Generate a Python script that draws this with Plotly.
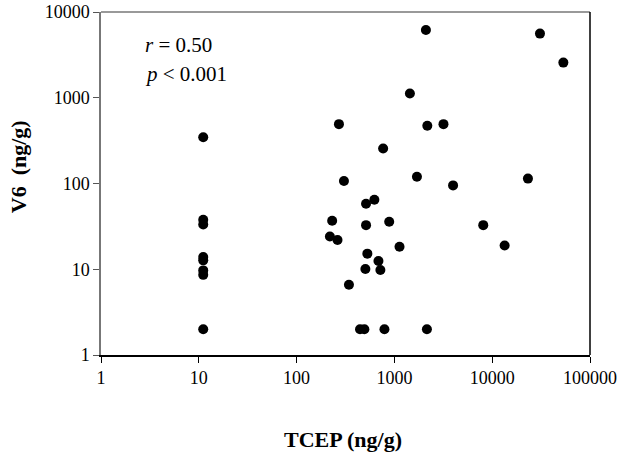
import plotly.graph_objects as go

tcep = [11.1, 11.1, 11.1, 11.1, 11.1, 11.1, 11.1, 11.1,
        2100, 30800, 53400, 1440, 271, 2170, 3175, 767, 305, 1700, 3980, 23200,
        624, 513, 231, 513, 885, 8100, 219, 262, 1128, 13400, 529, 687, 505, 719,
        343, 445, 493, 791, 2150]
v6 = [347, 37.8, 33.3, 13.9, 12.7, 9.7, 8.6, 2.0,
      6170, 5600, 2570, 1120, 492, 471, 492, 256, 107, 120, 95, 114,
      64.6, 58, 36.7, 32.7, 35.8, 32.7, 24.1, 21.9, 18.3, 18.9, 15.2, 12.5, 10.05, 9.8,
      6.6, 2.0, 2.0, 2.0, 2.0]

tickvals = [1, 10, 100, 1000, 10000, 100000]
ticktext = ["1", "10", "100", "1000", "10000", "100000"]
ytickvals = [1, 10, 100, 1000, 10000]
yticktext = ["1", "10", "100", "1000", "10000"]

font = "Liberation Serif"

fig = go.Figure(go.Scatter(
    x=tcep, y=v6, mode="markers",
    marker=dict(color="black", size=10, line=dict(width=0)),
    hoverinfo="x+y"))

fig.update_layout(
    width=624, height=458,
    margin=dict(l=101, r=34, t=12, b=103, autoexpand=False),
    paper_bgcolor="white", plot_bgcolor="white",
    showlegend=False,
    font=dict(family=font, size=15, color="black"),
    xaxis=dict(type="log", range=[0, 5], tickvals=tickvals, ticktext=ticktext,
               showgrid=False, zeroline=False, showline=True, linecolor="black",
               linewidth=1.5, ticks="outside", ticklen=6, tickcolor="black",
               tickfont=dict(family=font, size=18), automargin=False),
    yaxis=dict(type="log", range=[0, 4], tickvals=ytickvals, ticktext=yticktext,
               showgrid=False, zeroline=False, showline=True, linecolor="#777",
               linewidth=1.5, ticks="outside", ticklen=6, tickcolor="#555",
               tickfont=dict(family=font, size=18), automargin=False),
    shapes=[
        dict(type="line", xref="paper", yref="paper", x0=0, x1=1, y0=1, y1=1,
             line=dict(color="#777", width=1.5)),
        dict(type="line", xref="paper", yref="paper", x0=1, x1=1, y0=0, y1=1,
             line=dict(color="black", width=1.5)),
    ],
    annotations=[
        dict(xref="paper", yref="paper", x=0.086, y=0.903, xanchor="left", yanchor="middle",
             text="<i>r</i> = 0.50", showarrow=False, font=dict(family=font, size=21)),
        dict(xref="paper", yref="paper", x=0.086, y=0.819, xanchor="left", yanchor="middle",
             text="<i>p</i> < 0.001", showarrow=False, font=dict(family=font, size=21)),
        dict(xref="paper", yref="paper", x=0.495, y=-0.246, xanchor="center", yanchor="middle",
             text="<b>TCEP (ng/g)</b>", showarrow=False, font=dict(family=font, size=22)),
        dict(xref="paper", yref="paper", x=-0.17, y=0.55, xanchor="center", yanchor="middle",
             text="<b>V6  (ng/g)</b>", textangle=-90, showarrow=False,
             font=dict(family=font, size=22)),
    ],
)

fig.write_html("out.html", config={"displayModeBar": False},
               post_script="document.body.style.margin='0px';")
